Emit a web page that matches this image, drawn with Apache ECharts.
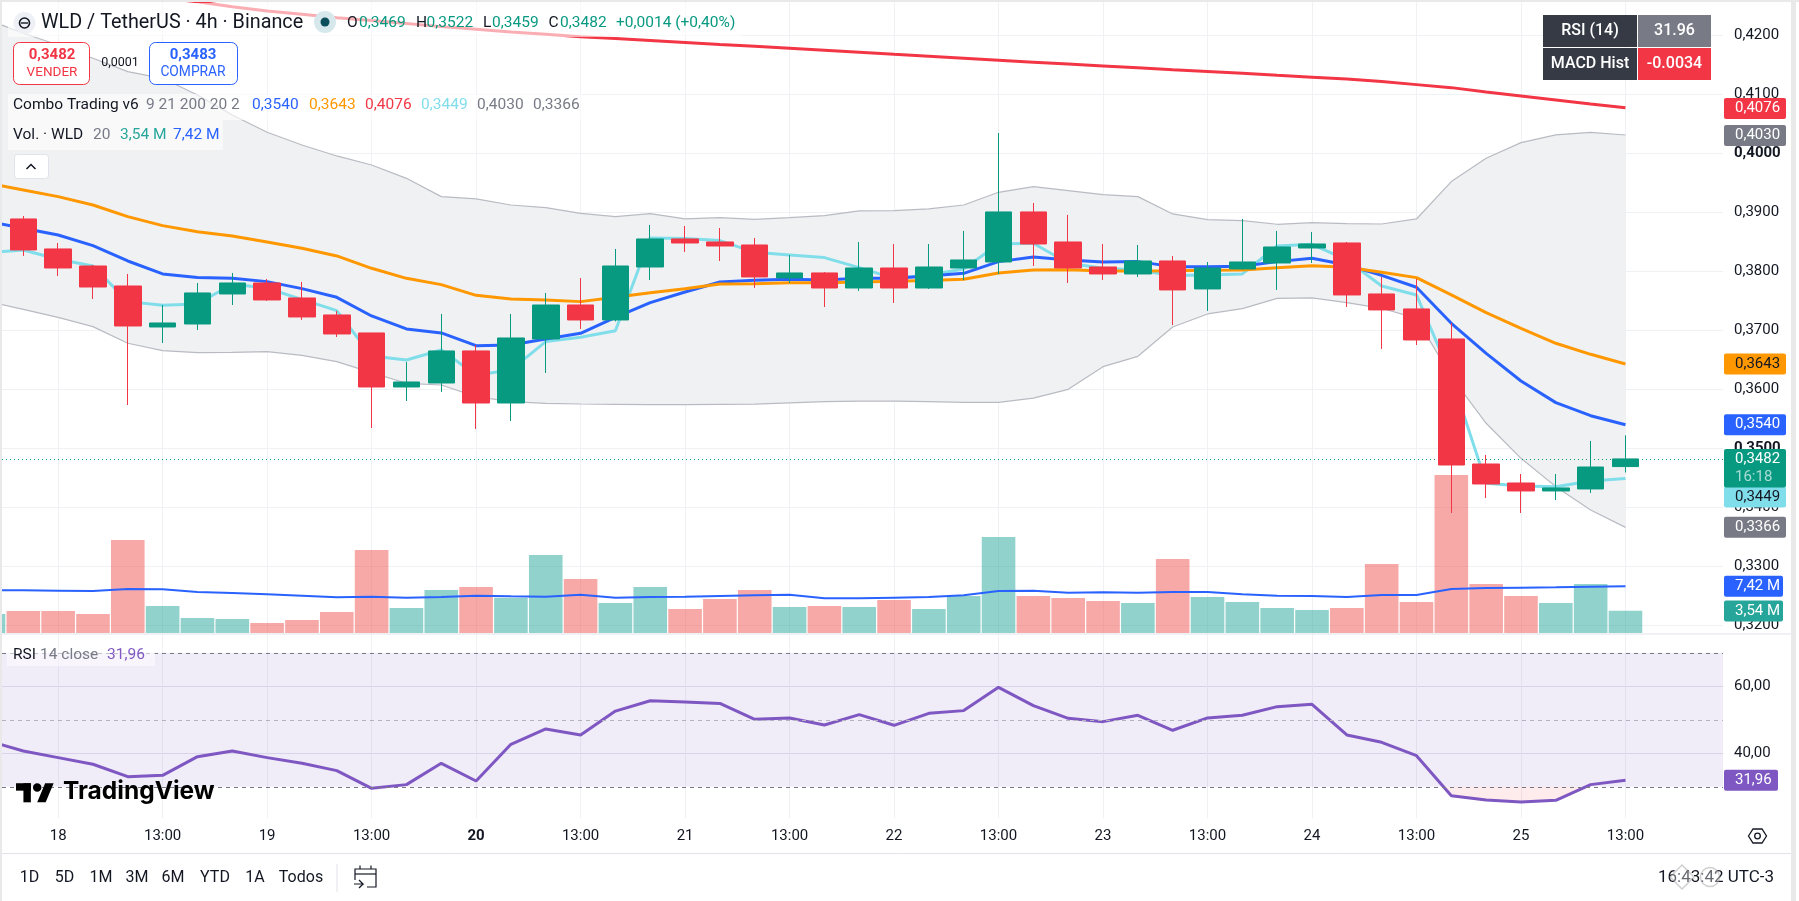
<!DOCTYPE html>
<html><head><meta charset="utf-8"><title>WLD / TetherUS</title>
<script src="https://cdn.jsdelivr.net/npm/echarts@6/dist/echarts.min.js"></script>
<style>html,body{margin:0;padding:0;background:#fff;overflow:hidden}#c{width:1799px;height:901px}</style>
</head><body><div id="c"></div>
<script>
const opens =[.38887,.38379,.3809,.37751,.37056,.37107,.37616,.37802,.37548,.3726,.36955,.36039,.36107,.3665,.35768,.36853,.37429,.37175,.38073,.38548,.38497,.38446,.37887,.37972,.37717,.38056,.37717,.38056,.38158,.39006,.38497,.38073,.37955,.38175,.37701,.3804,.38141,.38395,.3848,.37616,.37362,.36853,.34734,.34412,.34277,.34311,.3469];
const closes=[.38362,.38056,.37734,.37073,.37124,.37633,.37802,.37514,.37226,.36938,.36039,.36124,.3665,.35768,.3687,.37429,.37175,.3809,.38548,.3848,.38429,.37904,.37972,.37717,.38056,.37717,.38073,.38192,.39006,.38463,.38056,.37955,.38175,.37684,.38056,.38158,.38412,.38463,.37599,.37345,.36836,.34717,.34395,.34277,.34328,.34683,.3482];
const highs =[.38938,.3848,.38107,.37955,.37429,.37802,.37972,.3787,.37819,.37328,.36955,.36463,.37277,.36751,.37277,.37633,.37887,.38378,.38785,.38768,.38734,.38565,.38277,.37989,.38497,.38463,.38463,.38684,.40345,.39158,.38955,.38463,.38446,.3826,.38158,.38887,.38684,.38667,.38497,.37904,.3787,.37124,.34887,.34565,.34565,.35124,.3522];
const lows  =[.3826,.37921,.37531,.35734,.36785,.37005,.37429,.375,.37175,.36887,.35344,.35802,.35955,.35328,.35463,.36277,.37023,.3715,.37853,.38328,.38175,.37717,.37802,.37395,.37667,.37463,.377,.37853,.37955,.3809,.37802,.37853,.37904,.3709,.37328,.3803,.37684,.38141,.37395,.36684,.36751,.33904,.34158,.33904,.34124,.34243,.3459];
// line arrays start one bar before the first visible candle (scrolled off to the left)
const ema9  =[.38842,.38729,.38616,.38435,.38175,.37955,.37893,.37881,.37825,.37706,.37559,.37243,.37023,.36955,.3674,.36751,.36853,.36949,.3722,.37469,.3765,.37819,.37847,.37864,.37853,.37881,.37881,.37921,.37966,.38164,.38243,.38192,.38158,.38164,.38079,.38079,.38085,.38164,.3822,.38107,.37932,.37729,.37119,.3661,.36141,.35774,.35553,.354];
const ema21 =[.39492,.39379,.39266,.39124,.38927,.38774,.38672,.38599,.38497,.3839,.3826,.38051,.37881,.37774,.37593,.37531,.37514,.37486,.37559,.37638,.37706,.37785,.37791,.37808,.37808,.37819,.3783,.37842,.37864,.37972,.38023,.38028,.38006,.38006,.38011,.38017,.38023,.38062,.38096,.38068,.37983,.37893,.37599,.37299,.37034,.3678,.36593,.3643];
const ema200=[.4291,.4285,.4279,.4273,.4268,.4263,.4257,.42485,.42412,.42356,.42299,.42249,.42198,.42147,.42102,.42056,.42017,.41977,.41944,.4191,.41876,.41842,.41814,.4178,.41746,.41712,.41678,.41645,.41612,.41578,.41545,.41512,.4148,.41448,.41415,.41385,.41355,.41322,.4129,.41258,.41215,.41164,.41113,.4104,.40972,.40904,.40836,.40774];
const basis =[.38316,.38362,.38203,.3809,.37486,.37424,.37446,.37785,.37712,.37525,.37333,.36565,.36497,.36667,.36243,.36328,.36808,.36881,.36994,.38565,.38554,.3852,.38322,.38277,.38232,.38062,.37881,.37938,.3804,.38463,.38475,.38136,.38051,.38023,.37927,.37938,.37955,.38429,.38458,.38192,.37751,.37599,.36215,.34407,.34361,.3435,.34446,.3449];
const bbUpper=[.4226,.42034,.41836,.4161,.41384,.41271,.40989,.4065,.40356,.40141,.39955,.39802,.39576,.39266,.39226,.39124,.39079,.38983,.38927,.38977,.38887,.3891,.38881,.3891,.38944,.39023,.39028,.39057,.39124,.39339,.39435,.39367,.39299,.39266,.38972,.38876,.38859,.38797,.38825,.38808,.38802,.38887,.3952,.39915,.40181,.40311,.40356,.4031];
const bbLower=[.37486,.37356,.3722,.37062,.3678,.36655,.36621,.36627,.36638,.36576,.36469,.36282,.36102,.36073,.35876,.35791,.35763,.35751,.35745,.3574,.3574,.35745,.3575,.3577,.3579,.358,.358,.3579,.3578,.3578,.3585,.36,.36384,.36559,.37056,.37277,.37367,.37542,.37548,.37469,.37373,.37203,.36215,.35424,.3483,.3435,.33955,.3366];
const volumes=[3.02,3.5,3.5,3.02,14.79,4.29,2.38,2.23,1.59,2.07,3.34,13.2,3.97,6.84,7.31,5.62,12.4,8.59,4.77,7.31,3.82,5.41,6.84,4.13,4.29,4.13,5.25,3.82,5.88,15.26,5.88,5.56,5.09,4.77,11.76,5.72,4.93,3.97,3.66,3.97,10.97,4.93,25.12,7.79,5.88,4.77,7.79,3.54];
const volumeMA=[6.8,6.78,6.73,6.68,7.0,6.94,6.52,6.36,6.15,5.94,5.67,5.78,5.62,5.72,5.94,5.83,5.78,6.09,5.62,5.72,5.78,5.88,5.99,6.09,5.51,5.51,5.62,5.72,5.99,6.68,6.73,6.41,6.47,6.41,6.52,6.52,6.15,5.94,5.88,5.72,6.04,6.04,7.0,7.15,7.21,7.26,7.37,7.42];
const rsi=[43.68,40.7,38.71,36.72,33.03,33.43,39.0,40.7,38.71,37.01,34.83,29.55,30.65,37.01,31.74,42.69,47.26,45.47,52.6,55.7,55.3,54.9,50.15,50.55,48.46,51.54,48.36,51.94,52.74,59.7,54.23,50.45,49.45,51.34,46.87,50.55,51.34,53.93,54.63,45.47,43.28,39.3,27.36,26.07,25.47,25.97,30.65,31.96];
const oversoldX=[40.78,41,42,43,44,44.86];
const oversoldY=[30,27.36,26.07,25.47,25.97,30];
const tickBars  =[1,4,7,10,13,16,19,22,25,28,31,34,37,40,43,46];
const tickLabels=['18','13:00','19','13:00','20','13:00','21','13:00','22','13:00','23','13:00','24','13:00','25','13:00'];
const priceTicks=[.32,.33,.34,.35,.36,.37,.38,.39,.40,.41,.42];
const rsiTicks=[40,60];
const rangeButtons=['1D','5D','1M','3M','6M','YTD','1A','Todos'];
const rangeButtonX=[29.6,64.5,101,137,173,215,255,301];

const FONT='Roboto, "Noto Sans", sans-serif';
const INK='#131722',RED='#f23645',GRN='#089981',BLUE='#2962ff',ORG='#ff9800',CYAN='#80deea',GRAY='#787b86',PURP='#7e57c2',VGRN='#26a69a';
const GRIDC='#f0f1f4';
const AF=15;
const lineX=i=>i-1;
const pts=a=>a.map((v,i)=>[lineX(i),v]);
const XMIN=-0.6118,XMAX=48.8;

const comma=(v,d)=>v.toFixed(d).replace('.',',');
const xAxisBase={type:'value',min:XMIN,max:XMAX,axisLine:{show:false},
  axisTick:{show:false,customValues:tickBars},
  splitLine:{show:true,lineStyle:{color:GRIDC,width:1}}};

const chart=echarts.init(document.getElementById('c'),null,{renderer:'canvas'});
const lineS=(name,data,color,width,z,extra)=>Object.assign({name,type:'line',data:pts(data),symbol:'none',showSymbol:false,
  lineStyle:{color,width},itemStyle:{color},z,silent:true,animation:false},extra||{});

chart.setOption({
  animation:false,backgroundColor:'#fff',
  textStyle:{fontFamily:FONT},
  grid:[{left:2,top:2,width:1721,height:631},{left:2,top:634,width:1721,height:184}],
  xAxis:[
    Object.assign({},xAxisBase,{gridIndex:0,axisLabel:{show:false}}),
    Object.assign({},xAxisBase,{gridIndex:1,axisLabel:{show:true,customValues:tickBars,margin:11,hideOverlap:false,
      color:INK,fontSize:AF,fontFamily:FONT,
      formatter:v=>{const k=tickBars.indexOf(v),t=tickLabels[k]||'';return t==='20'?'{b|'+t+'}':t;},
      rich:{b:{fontWeight:'bold',fontSize:AF,fontFamily:FONT,color:INK}}}})
  ],
  yAxis:[
    {type:'value',gridIndex:0,position:'right',min:.41-(633-94.3)/5900,max:.41+(94.3-2)/5900,
     axisLine:{show:false},axisTick:{show:false,customValues:priceTicks},
     splitLine:{show:true,lineStyle:{color:GRIDC,width:1}},
     axisLabel:{show:true,customValues:priceTicks,margin:11,color:INK,fontSize:AF,fontFamily:FONT,hideOverlap:false,
       formatter:v=>{const s=comma(v,4);return (Math.abs(v-.35)<1e-6||Math.abs(v-.4)<1e-6)?'{b|'+s+'}':s;},
       rich:{b:{fontWeight:'bold',fontSize:AF,fontFamily:FONT,color:INK}}}},
    {type:'value',gridIndex:0,show:false,min:0,max:631/6.29,splitLine:{show:false}},
    {type:'value',gridIndex:1,position:'right',min:60-(818-686.3)/3.35,max:60+(686.3-634)/3.35,
     axisLine:{show:false},axisTick:{show:false,customValues:rsiTicks},
     splitLine:{show:true,lineStyle:{color:'#e6e3ef',width:1}},
     axisLabel:{show:true,customValues:rsiTicks,margin:11,color:INK,fontSize:AF,fontFamily:FONT,formatter:v=>comma(v,2)}}
  ],
  series:[
    {name:'BB band',type:'custom',xAxisIndex:0,yAxisIndex:0,z:1,silent:true,
     data:bbUpper.map((v,i)=>[lineX(i),v,bbLower[i]]),encode:{x:0,y:[1,2]},
     renderItem:(params,api)=>{
       if(params.dataIndex!==0) return null;
       const up=bbUpper.map((v,i)=>api.coord([lineX(i),v]));
       const lo=bbLower.map((v,i)=>api.coord([lineX(i),v])).reverse();
       return {type:'polygon',shape:{points:up.concat(lo)},style:{fill:'#f0f1f3'}};
     }},
    lineS('BB lower',bbLower,'#b9bbc3',1.2,2),
    lineS('BB upper',bbUpper,'#b9bbc3',1.2,2),
    {name:'Vol',type:'bar',xAxisIndex:0,yAxisIndex:1,barWidth:33.6,z:2,silent:true,
     data:volumes.map((v,i)=>{const k=i-1,up=k<0?true:closes[k]>=opens[k];
       return {value:[lineX(i),v],itemStyle:{color:up?'rgba(38,166,154,0.5)':'rgba(239,83,80,0.5)'}};})},
    lineS('Vol MA',volumeMA,BLUE,2,3,{yAxisIndex:1}),
    lineS('Basis',basis,CYAN,3,3),
    lineS('EMA9',ema9,BLUE,3,4),
    lineS('EMA21',ema21,ORG,3,5),
    lineS('EMA200',ema200,RED,3,5),
    {name:'WLD',type:'candlestick',xAxisIndex:0,yAxisIndex:0,barWidth:27,z:6,silent:true,
     encode:{x:0,y:[1,2,3,4]},
     data:opens.map((o,i)=>[i,o,closes[i],lows[i],highs[i]]),
     itemStyle:{color:GRN,color0:RED,borderColor:GRN,borderColor0:RED,borderWidth:1},
     markLine:{silent:true,symbol:'none',animation:false,precision:6,label:{show:false},
       lineStyle:{color:GRN,type:[1,3],width:1},data:[{yAxis:closes[closes.length-1]}]}},
    {name:'Oversold',type:'line',xAxisIndex:1,yAxisIndex:2,data:oversoldX.map((x,i)=>[x,oversoldY[i]]),symbol:'none',showSymbol:false,
     lineStyle:{width:0,opacity:0},areaStyle:{color:RED,opacity:.1,origin:30},z:3,silent:true},
    lineS('RSI',rsi,PURP,3,4,{xAxisIndex:1,yAxisIndex:2,
      markArea:{silent:true,itemStyle:{color:'rgba(126,87,194,0.115)'},data:[[{yAxis:70},{yAxis:30}]]},
      markLine:{silent:true,symbol:'none',animation:false,label:{show:false},data:[
        {yAxis:70,lineStyle:{color:GRAY,type:[4,4],width:1}},
        {yAxis:50,lineStyle:{color:'#b4b2be',type:[4,4],width:1}},
        {yAxis:30,lineStyle:{color:GRAY,type:[4,4],width:1}}]}})
  ]
});

// Price tags (positions from the library's own scale)
const yPrice=v=>chart.convertToPixel({yAxisIndex:0},v);
const yVol=v=>chart.convertToPixel({yAxisIndex:1},v);
const yRsi=v=>chart.convertToPixel({yAxisIndex:2},v);
const tagList=[
 {y:yPrice(.4076),c:RED,t:'0,4076',w:62,tc:'#fff'},
 {y:yPrice(.4030),c:GRAY,t:'0,4030',w:62,tc:'#fff'},
 {y:yPrice(.3643),c:ORG,t:'0,3643',w:62,tc:'#131722'},
 {y:yPrice(.3540),c:BLUE,t:'0,3540',w:62,tc:'#fff'},
 {y:yPrice(.3449)+18.6,c:CYAN,t:'0,3449',w:62,tc:'#131722'},
 {y:yPrice(.3366),c:GRAY,t:'0,3366',w:62,tc:'#fff'},
 {y:yVol(7.42),c:BLUE,t:'7,42 M',w:59,tc:'#fff'},
 {y:yVol(3.54)+.3,c:VGRN,t:'3,54 M',w:59,tc:'#fff'},
 {y:yRsi(31.96),c:PURP,t:'31,96',w:54,tc:'#fff'}
];
const Z=50;
const txt=(x,y,text,o)=>({type:'text',z:Z+2,x,y,silent:true,style:Object.assign({text,fill:INK,fontFamily:FONT,fontSize:15,align:'left',verticalAlign:'middle'},o||{})});
const rect=(x,y,w,h,fill,o)=>({type:'rect',z:(o&&o.z)||Z,silent:true,shape:{x,y,width:w,height:h,r:(o&&o.r)||0},style:Object.assign({fill},(o&&o.style)||{})});
const g=[];
// frame
g.push(rect(0,0,1799,2,'#e9e9e9'),rect(0,0,2,901,'#e9e9e9'),rect(1791,0,5,901,'#e9e9e9'));
g.push({type:'line',z:Z,silent:true,shape:{x1:2,y1:634,x2:1791,y2:634},style:{stroke:'#e0e3eb',lineWidth:1}});
g.push({type:'line',z:Z,silent:true,shape:{x1:2,y1:853.5,x2:1791,y2:853.5},style:{stroke:'#e0e3eb',lineWidth:1}});
// legend backdrops
g.push(rect(8,3,734,34,'rgba(255,255,255,0.6)'),rect(8,94,574,26,'rgba(255,255,255,0.6)'),rect(8,120,215,30,'rgba(255,255,255,0.6)'));
g.push(rect(7,650,148,16,'rgba(255,255,255,0.55)'));
// symbol + title
g.push({type:'circle',z:Z+1,silent:true,shape:{cx:24.5,cy:23,r:11},style:{fill:'#eef0f6'}});
g.push({type:'circle',z:Z+2,silent:true,shape:{cx:24.5,cy:23,r:5},style:{fill:'none',stroke:'#131722',lineWidth:1.6}});
g.push({type:'line',z:Z+2,silent:true,shape:{x1:21,y1:23,x2:28,y2:23},style:{stroke:'#131722',lineWidth:1.4}});
g.push(txt(41,23,'WLD / TetherUS · 4h · Binance',{fontSize:19.8}));
g.push({type:'circle',z:Z+1,silent:true,shape:{cx:325,cy:22,r:11},style:{fill:'#d6e8ec'}});
g.push({type:'circle',z:Z+2,silent:true,shape:{cx:325,cy:22,r:4.5},style:{fill:'#0b4f5c'}});
const LF=15.5;
[[347,'O',INK],[359,'0,3469',GRN],[416,'H',INK],[426.5,'0,3522',GRN],[483,'L',INK],[492,'0,3459',GRN],[548.5,'C',INK],[560,'0,3482',GRN],[616,'+0,0014 (+0,40%)',GRN]]
  .forEach(r=>g.push(txt(r[0],23,r[1],{fill:r[2],fontSize:LF})));
// sell / buy
g.push({type:'rect',z:Z,silent:true,shape:{x:13.5,y:42.5,width:76,height:42,r:6},style:{fill:'#fff',stroke:RED,lineWidth:1}});
g.push({type:'rect',z:Z,silent:true,shape:{x:149.5,y:42.5,width:88,height:42,r:6},style:{fill:'#fff',stroke:BLUE,lineWidth:1}});
g.push(txt(52,55,'0,3482',{fill:RED,fontWeight:'bold',fontSize:15,align:'center'}),txt(52,72.5,'VENDER',{fill:RED,fontSize:13.5,align:'center'}));
g.push(txt(193,55,'0,3483',{fill:BLUE,fontWeight:'bold',fontSize:15,align:'center'}),txt(193,72.5,'COMPRAR',{fill:BLUE,fontSize:13.8,align:'center'}));
g.push(txt(120,63,'0,0001',{fontSize:12.5,align:'center'}));
// indicator legends
[[13,'Combo Trading v6',INK],[146,'9 21 200 20 2',GRAY],[252,'0,3540',BLUE],[309,'0,3643',ORG],[365,'0,4076',RED],[421,'0,3449',CYAN],[477,'0,4030',GRAY],[533,'0,3366',GRAY]]
  .forEach(r=>g.push(txt(r[0],105,r[1],{fill:r[2],fontSize:LF})));
[[13,'Vol. · WLD',INK],[93,'20',GRAY],[120,'3,54 M',VGRN],[173,'7,42 M',BLUE]]
  .forEach(r=>g.push(txt(r[0],135,r[1],{fill:r[2],fontSize:LF})));
g.push({type:'rect',z:Z,silent:true,shape:{x:14.5,y:154.5,width:34,height:24,r:3},style:{fill:'#fff',stroke:'#e0e3eb',lineWidth:1}});
g.push({type:'polyline',z:Z+1,silent:true,shape:{points:[[26.5,169],[31,164.5],[35.5,169]]},style:{fill:'none',stroke:INK,lineWidth:1.5}});
[[13,'RSI',INK],[40,'14 close',GRAY],[107,'31,96',PURP]].forEach(r=>g.push(txt(r[0],655,r[1],{fill:r[2],fontSize:LF})));
// top-right table
g.push(rect(1543,15,94,32,'#363a45'),rect(1638,15,73,32,GRAY),rect(1543,48,94,32,'#363a45'),rect(1638,48,73,32,RED));
const cell={fill:'#fff',fontWeight:500,fontSize:16,align:'center'};
g.push(txt(1590,30.5,'RSI (14)',cell),txt(1674.5,30.5,'31.96',cell),txt(1590,63.5,'MACD Hist',cell),txt(1674.5,63.5,'-0.0034',cell));
// tags
tagList.forEach(t=>{
  g.push(rect(1724,t.y-10.5,t.w,21,t.c,{r:2,z:Z+5}));
  g.push(Object.assign(txt(1735,t.y,t.t,{fill:t.tc,fontSize:AF}),{z:Z+6}));
});
const yc=yPrice(closes[closes.length-1]);
g.push(rect(1724,yc-10,62,38.7,GRN,{r:2,z:Z+5}));
g.push(Object.assign(txt(1735,yc,'0,3482',{fill:'#fff',fontSize:AF}),{z:Z+6}));
g.push(Object.assign(txt(1735,yc+18,'16:18',{fill:'rgba(255,255,255,0.65)',fontSize:AF}),{z:Z+6}));
// watermark
const LS=1.06,LX=16,LY=779;
g.push(rect(LX,LY+4*LS,14*LS,7*LS,'#000',{z:Z+2}),rect(LX+7*LS,LY+4*LS,7*LS,18*LS,'#000',{z:Z+2}));
g.push({type:'polygon',z:Z+2,silent:true,shape:{points:[[LX+28*LS,LY+22*LS],[LX+20*LS,LY+22*LS],[LX+27.5*LS,LY+4*LS],[LX+35.5*LS,LY+4*LS]]},style:{fill:'#000'}});
g.push({type:'circle',z:Z+2,silent:true,shape:{cx:LX+20*LS,cy:LY+8*LS,r:4*LS},style:{fill:'#000'}});
g.push(txt(63,792,'TradingView',{fontSize:24.5,fontWeight:'bold',fill:'#000',fontFamily:'Inter, Roboto, sans-serif'}));
// settings icon
g.push({type:'polygon',z:Z,silent:true,shape:{points:[[1748.5,836],[1753,829],[1762,829],[1766.5,836],[1762,843],[1753,843]]},style:{fill:'none',stroke:INK,lineWidth:1.3}});
g.push({type:'circle',z:Z,silent:true,shape:{cx:1757.5,cy:836,r:2.8},style:{fill:'none',stroke:INK,lineWidth:1.3}});
// range buttons
rangeButtons.forEach((b,i)=>g.push(txt(rangeButtonX[i],878,b,{fontSize:16,align:'center'})));
g.push({type:'line',z:Z,silent:true,shape:{x1:337,y1:864,x2:337,y2:892},style:{stroke:'#e0e3eb',lineWidth:1}});
g.push({type:'polyline',z:Z,silent:true,shape:{points:[[355,880],[355,869],[376,869],[376,887],[367,887]]},style:{fill:'none',stroke:INK,lineWidth:1.2}});
g.push({type:'line',z:Z,silent:true,shape:{x1:355,y1:874,x2:376,y2:874},style:{stroke:INK,lineWidth:1.2}});
g.push({type:'line',z:Z,silent:true,shape:{x1:360,y1:865.5,x2:360,y2:869},style:{stroke:INK,lineWidth:1.2}});
g.push({type:'line',z:Z,silent:true,shape:{x1:371,y1:865.5,x2:371,y2:869},style:{stroke:INK,lineWidth:1.2}});
g.push({type:'polyline',z:Z,silent:true,shape:{points:[[354,884],[363,884],[359,880]]},style:{fill:'none',stroke:INK,lineWidth:1.2}});
g.push({type:'line',z:Z,silent:true,shape:{x1:363,y1:884,x2:359,y2:888},style:{stroke:INK,lineWidth:1.2}});
g.push(txt(1658,878,'16:43:42 UTC-3',{fontSize:17}));
// faint overlay marks over the clock
g.push({type:'polygon',z:Z+3,silent:true,shape:{points:[[1682,865],[1694,877],[1682,889],[1670,877]]},style:{fill:'rgba(255,255,255,0.35)',stroke:'rgba(150,150,150,0.45)',lineWidth:1.5}});
g.push({type:'circle',z:Z+3,silent:true,shape:{cx:1710,cy:877,r:9.5},style:{fill:'rgba(255,255,255,0.35)',stroke:'rgba(150,150,150,0.45)',lineWidth:1.5}});
chart.setOption({graphic:{elements:g}});
</script></body></html>
